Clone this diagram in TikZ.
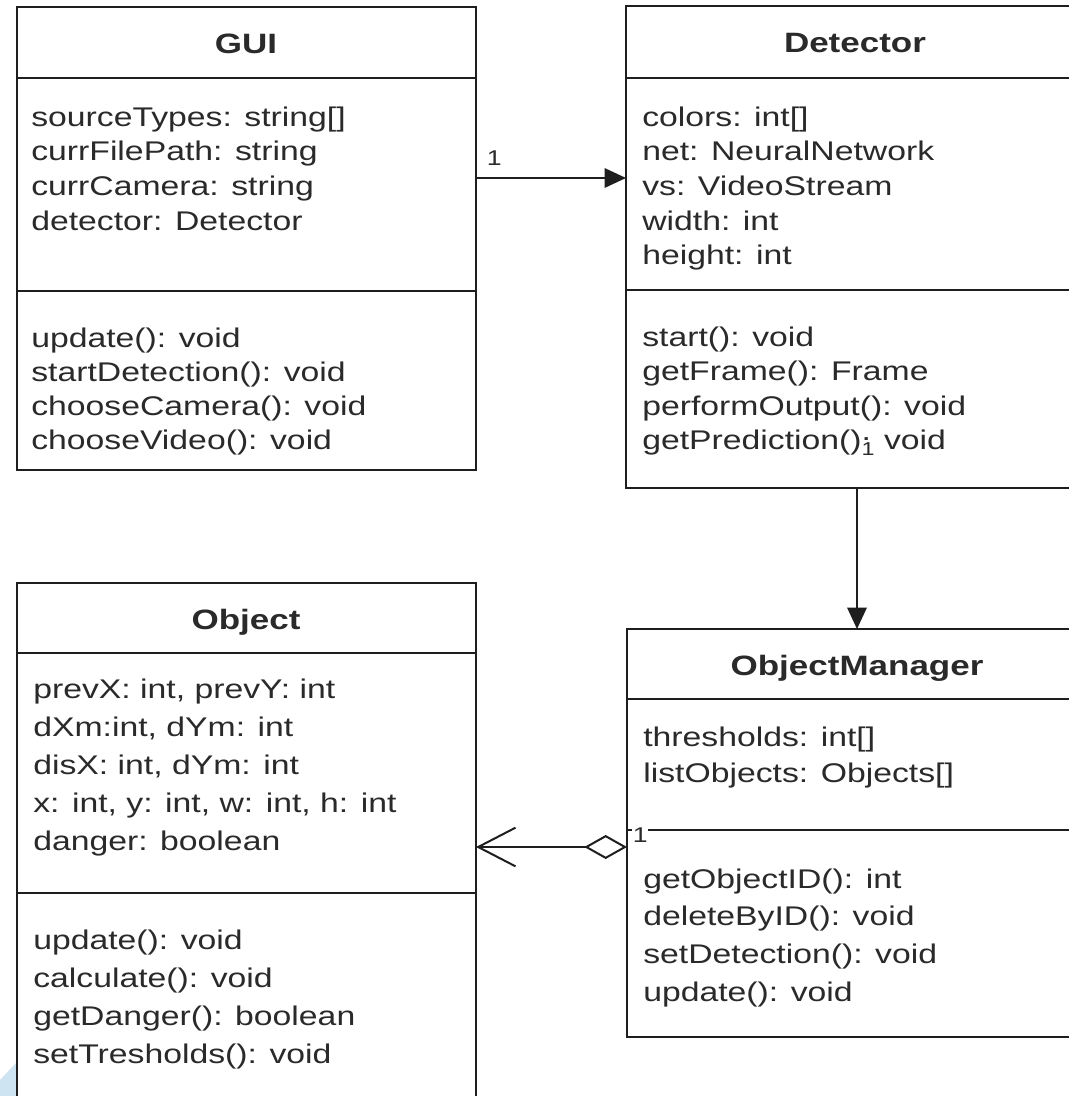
\documentclass[tikz,border=0pt]{standalone}
\usepackage{fontspec}
\newfontfamily\umlfont[FakeStretch=1.25]{Liberation Sans}
\usetikzlibrary{arrows.meta}
\definecolor{ink}{HTML}{1E1E1E}
\definecolor{txt}{HTML}{2A2A2A}
\definecolor{haze}{RGB}{206,228,242}

\tikzset{
  classbox/.style={draw=ink, line width=1.5pt, inner sep=0pt, outer sep=0pt,
    anchor=north west, rectangle},
  classtitle/.style={anchor=base, inner sep=0pt, text=txt,
    font=\umlfont\bfseries\fontsize{21pt}{25pt}\selectfont},
  member/.style={anchor=base west, inner sep=0pt, text=txt,
    font=\umlfont\fontsize{20.25pt}{24pt}\selectfont},
  divider/.style={draw=ink, line width=1.5pt},
  mult/.style={inner sep=0.5pt, text=txt, anchor=base west,
    font=\umlfont\fontsize{16pt}{18pt}\selectfont},
  assoc/.style={draw=ink, line width=1.5pt, -{Triangle[length=16pt, width=14.5pt]}},
  aggr/.style={draw=ink, line width=1.5pt,
    {Diamond[open, length=32pt, width=18pt]}-{Straight Barb[length=28pt, width=29pt]}}
}

\begin{document}
\begin{tikzpicture}[x=0.75pt, y=-0.75pt]
  \useasboundingbox (0,0) rectangle (1069,1096);
  \clip (0,0) rectangle (1069,1096);
  \fill[white] (0,0) rectangle (1069,1096);

  % soft blue corner at the lower left
  \fill[haze] (0,1080) -- (17,1062) -- (17,1096) -- (0,1096) -- cycle;

  % ---- class GUI ----
  \node[classbox, minimum width=459*0.75pt, minimum height=463*0.75pt] (gui) at (17,7) {};
  \draw[divider] (gui.west |- 0,78) -- (gui.east |- 0,78);
  \draw[divider] (gui.west |- 0,291) -- (gui.east |- 0,291);
  \node[classtitle] (gui-name) at (246,53) {GUI};
  \foreach \t [count=\i] in {{sourceTypes: string[]}, {currFilePath: string},
      {currCamera: string}, {detector: Detector}}
    \node[member] (gui-att-\i) at (31,{126+(\i-1)*34.7}) {\t};
  \foreach \t [count=\i] in {{update(): void}, {startDetection(): void},
      {chooseCamera(): void}, {chooseVideo(): void}}
    \node[member] (gui-op-\i) at (31,{347+(\i-1)*34.3}) {\t};

  % ---- class Detector ----
  \node[classbox, minimum width=458*0.75pt, minimum height=482*0.75pt] (det) at (626,6) {};
  \draw[divider] (det.west |- 0,78) -- (det.east |- 0,78);
  \draw[divider] (det.west |- 0,290) -- (det.east |- 0,290);
  \node[classtitle] (det-name) at (855,52) {Detector};
  \foreach \t [count=\i] in {{colors: int[]}, {net: NeuralNetwork},
      {vs: VideoStream}, {width: int}, {height: int}}
    \node[member] (det-att-\i) at (642,{126+(\i-1)*34.7}) {\t};
  \foreach \t [count=\i] in {{start(): void}, {getFrame(): Frame},
      {performOutput(): void}}
    \node[member] (det-op-\i) at (642,{346+(\i-1)*34.5}) {\t};
  \node[member] (det-op-4) at (642,{346+3*34.5})
    {getPrediction()\rlap{\raisebox{0.62ex}{.}}\raisebox{-0.45ex}{\fontsize{14pt}{14pt}\selectfont 1} void};

  % ---- class Object ----
  \node[classbox, minimum width=459*0.75pt, minimum height=540*0.75pt] (obj) at (17,583) {};
  \draw[divider] (obj.west |- 0,653) -- (obj.east |- 0,653);
  \draw[divider] (obj.west |- 0,893) -- (obj.east |- 0,893);
  \node[classtitle] (obj-name) at (246,629) {Object};
  \foreach \t [count=\i] in {{prevX: int, prevY: int}, {dXm:int, dYm: int},
      {disX: int, dYm: int}, {x: int, y: int, w: int, h: int}, {danger: boolean}}
    \node[member] (obj-att-\i) at (33,{698+(\i-1)*38}) {\t};
  \foreach \t [count=\i] in {{update(): void}, {calculate(): void},
      {getDanger(): boolean}, {setTresholds(): void}}
    \node[member] (obj-op-\i) at (33,{949+(\i-1)*38.3}) {\t};

  % ---- class ObjectManager ----
  \node[classbox, minimum width=456*0.75pt, minimum height=408*0.75pt] (mgr) at (627,629) {};
  \draw[divider] (mgr.west |- 0,699) -- (mgr.east |- 0,699);
  \draw[divider] (mgr.west |- 0,830) -- (mgr.east |- 0,830);
  \node[classtitle] (mgr-name) at (857,675) {ObjectManager};
  \foreach \t [count=\i] in {{thresholds: int[]}, {listObjects: Objects[]}}
    \node[member] (mgr-att-\i) at (643,{746+(\i-1)*36.5}) {\t};
  \foreach \t [count=\i] in {{getObjectID(): int}, {deleteByID(): void},
      {setDetection(): void}, {update(): void}}
    \node[member] (mgr-op-\i) at (643,{888+(\i-1)*37.8}) {\t};

  % ---- relations ----
  \draw[assoc] (gui.east |- 0,178) -- (det.west |- 0,178);
  \node[mult] (gui-det-mult) at (486,165) {1};

  \draw[assoc] (det.south -| 857,0) -- (mgr.north -| 857,0);

  \draw[aggr] (mgr.west |- 0,847) -- (obj.east |- 0,847);
  \node[mult, fill=white] (mgr-obj-mult) at (632,842) {1};
\end{tikzpicture}
\end{document}
